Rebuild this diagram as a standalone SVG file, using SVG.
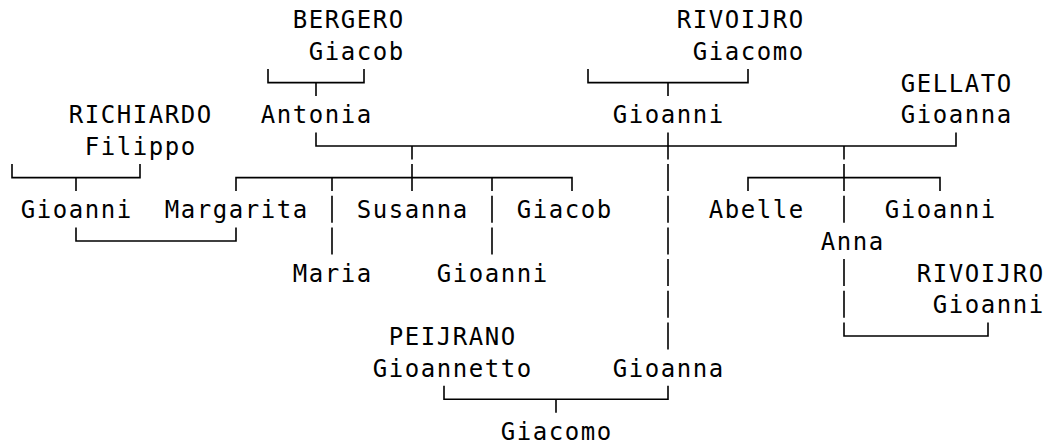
<svg xmlns="http://www.w3.org/2000/svg" width="1048" height="447" viewBox="0 0 1048 447">
<style>
text{font-family:"DejaVu Sans Mono","Liberation Mono",monospace;font-size:24px;letter-spacing:1.55px;fill:#000}
.c path{fill:none;stroke:#000;stroke-width:1.6}
</style>
<rect width="1048" height="447" fill="#fff"/>
<g class="c" id="connectors">
<path d="M268,69.1V82.6H364V69.1M316,82.6V96.1"/>
<path d="M588,69.1V82.6H748V69.1M668,82.6V96.1"/>
<path d="M316,132.5V146H956V132.5M412,146V159.5M668,132.5V159.5M844,146V159.5"/>
<path d="M12,164.1V177.6H140V164.1M76,177.6V191.1"/>
<path d="M236,191.1V177.6H572V191.1M332,177.6V191.1M412,164.1V191.1M492,177.6V191.1"/>
<path d="M748,191.1V177.6H940V191.1M844,164.1V191.1"/>
<path d="M668,164.1V191.1M668,195.8V222.8M668,227.5V254.5M668,259.1V286.1M668,290.8V317.8M668,322.5V349.5"/>
<path d="M332,195.8V222.8M332,227.5V254.5M492,195.8V222.8M492,227.5V254.5"/>
<path d="M844,195.8V222.8M844,259.1V286.1M844,290.8V317.8M844,322.5V336H988V322.5"/>
<path d="M76,227.5V241H236V227.5"/>
<path d="M444,385.8V399.3H668V385.8M556,399.3V412.8"/>
</g>
<g id="bergero-giacob"><text x="292.8" y="28.3">BERGERO</text><text x="308.8" y="60">Giacob</text></g>
<g id="rivoijro-giacomo"><text x="676.8" y="28.3">RIVOIJRO</text><text x="692.8" y="60">Giacomo</text></g>
<g id="gellato-gioanna"><text x="900.8" y="91.6">GELLATO</text><text x="900.8" y="123.3">Gioanna</text></g>
<g id="richiardo-filippo"><text x="68.8" y="123.3">RICHIARDO</text><text x="84.8" y="155">Filippo</text></g>
<g id="antonia"><text x="260.8" y="123.3">Antonia</text></g>
<g id="gioanni-father"><text x="612.8" y="123.3">Gioanni</text></g>
<g id="gioanni-richiardo"><text x="20.8" y="218.3">Gioanni</text></g>
<g id="margarita"><text x="164.8" y="218.3">Margarita</text></g>
<g id="susanna"><text x="356.8" y="218.3">Susanna</text></g>
<g id="giacob-child"><text x="516.8" y="218.3">Giacob</text></g>
<g id="abelle"><text x="708.8" y="218.3">Abelle</text></g>
<g id="gioanni-child2"><text x="884.8" y="218.3">Gioanni</text></g>
<g id="anna"><text x="820.8" y="250">Anna</text></g>
<g id="maria"><text x="292.8" y="281.6">Maria</text></g>
<g id="gioanni-grandchild"><text x="436.8" y="281.6">Gioanni</text></g>
<g id="rivoijro-gioanni"><text x="916.8" y="281.6">RIVOIJRO</text><text x="932.8" y="313.3">Gioanni</text></g>
<g id="peijrano-gioannetto"><text x="388.8" y="345">PEIJRANO</text><text x="372.8" y="376.7">Gioannetto</text></g>
<g id="gioanna-child"><text x="612.8" y="376.7">Gioanna</text></g>
<g id="giacomo"><text x="500.8" y="440">Giacomo</text></g>
</svg>
